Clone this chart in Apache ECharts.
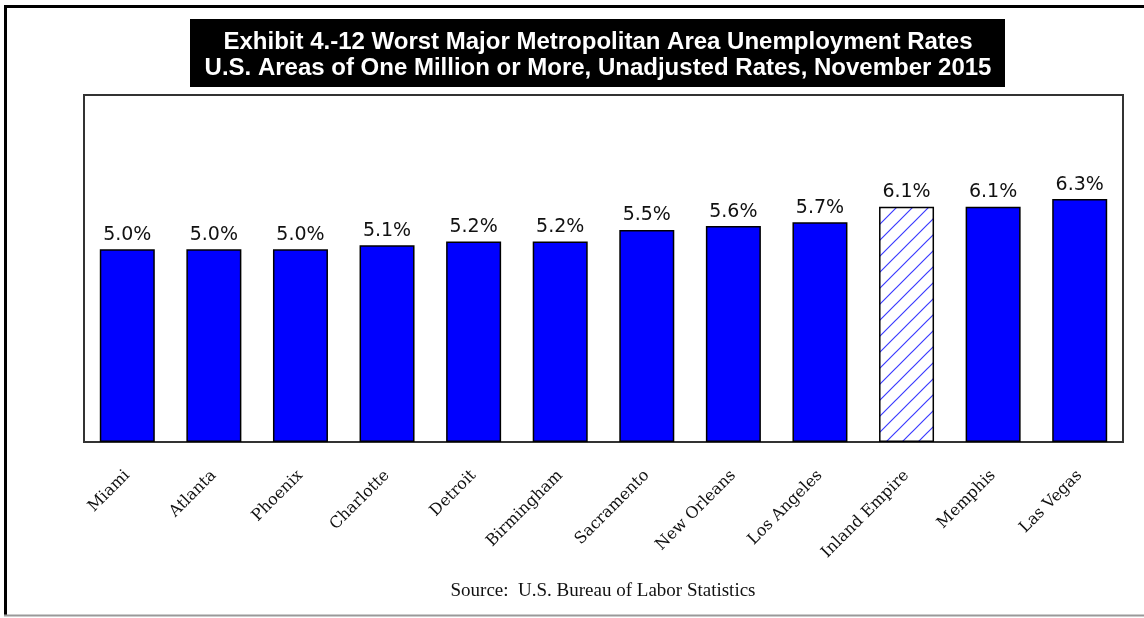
<!DOCTYPE html>
<html>
<head>
<meta charset="utf-8">
<script src="https://cdn.jsdelivr.net/npm/echarts@6/dist/echarts.min.js"></script>
<style>
  html, body { margin: 0; padding: 0; background: #fff; }
  #chart { width: 1144px; height: 618px; }
</style>
</head>
<body>
<div id="chart"></div>
<script>
// Metro areas, November 2015 unemployment (unadjusted, %)
const areas = ['Miami', 'Atlanta', 'Phoenix', 'Charlotte', 'Detroit', 'Birmingham',
  'Sacramento', 'New Orleans', 'Los Angeles', 'Inland Empire', 'Memphis', 'Las Vegas'];
const rates = [5.0, 5.0, 5.0, 5.1, 5.2, 5.2, 5.5, 5.6, 5.7, 6.1, 6.1, 6.3];
const highlighted = ['Inland Empire'];

const titleLines = [
  'Exhibit 4.-12 Worst Major Metropolitan Area Unemployment Rates',
  'U.S. Areas of One Million or More, Unadjusted Rates, November 2015'
];
const sourceNote = 'Source:  U.S. Bureau of Labor Statistics';

// Diagonal hatch tile for the highlighted bar
function hatchTile() {
  const s = 16;
  const c = document.createElement('canvas');
  c.width = s; c.height = s;
  const g = c.getContext('2d');
  g.fillStyle = '#fff';
  g.fillRect(0, 0, s, s);
  g.strokeStyle = '#3b3bff';
  g.lineWidth = 1.2;
  g.beginPath();
  g.moveTo(-2, s + 2); g.lineTo(s + 2, -2);
  g.moveTo(-2, 2); g.lineTo(2, -2);
  g.moveTo(s - 2, s + 2); g.lineTo(s + 2, s - 2);
  g.stroke();
  return c;
}
const hatch = { image: hatchTile(), repeat: 'repeat' };

const barData = areas.map((name, i) => ({
  value: rates[i],
  itemStyle: highlighted.includes(name) ? { color: hatch } : {}
}));

const chart = echarts.init(document.getElementById('chart'), null, { renderer: 'canvas' });

chart.setOption({
  animation: false,
  backgroundColor: '#fff',
  grid: {
    left: 84, top: 95, width: 1039, height: 347,
    show: true, borderColor: '#333', borderWidth: 2, backgroundColor: 'transparent'
  },
  xAxis: {
    type: 'category',
    data: areas,
    axisLine: { show: false },
    axisTick: { show: false },
    axisLabel: {
      rotate: 45,
      margin: 31,
      interval: 0,
      fontFamily: 'DejaVu Serif',
      fontSize: 16,
      color: '#111'
    }
  },
  yAxis: {
    type: 'value',
    min: 0, max: 9, interval: 1,
    show: false,
    splitLine: { show: false }
  },
  series: [{
    type: 'bar',
    data: barData,
    barWidth: 55,
    itemStyle: { color: '#0000ff', borderColor: '#000', borderWidth: 1.5 },
    label: {
      show: true,
      position: 'top',
      distance: 5,
      fontFamily: 'DejaVu Sans',
      fontSize: 19,
      color: '#111',
      formatter: p => p.value.toFixed(1) + '%'
    }
  }],
  graphic: [
    // outer frame
    { type: 'line', shape: { x1: 5.5, y1: 5, x2: 5.5, y2: 616 }, style: { stroke: '#000', lineWidth: 3 } },
    { type: 'line', shape: { x1: 4, y1: 6.5, x2: 1144, y2: 6.5 }, style: { stroke: '#000', lineWidth: 3 } },
    { type: 'line', shape: { x1: 4, y1: 615.5, x2: 1144, y2: 615.5 }, style: { stroke: '#999', lineWidth: 2 } },
    // title box
    { type: 'rect', shape: { x: 190, y: 19, width: 815, height: 68 }, style: { fill: '#000' } },
    {
      type: 'text', x: 598, y: 42,
      style: { text: titleLines[0], fill: '#fff', font: 'bold 24px "Liberation Sans"', align: 'center', verticalAlign: 'middle' }
    },
    {
      type: 'text', x: 598, y: 68,
      style: { text: titleLines[1], fill: '#fff', font: 'bold 24px "Liberation Sans"', align: 'center', verticalAlign: 'middle' }
    },
    // source note
    {
      type: 'text', x: 603, y: 591,
      style: { text: sourceNote, fill: '#111', font: '19px "Liberation Serif"', align: 'center', verticalAlign: 'middle' }
    }
  ]
});
</script>
</body>
</html>
